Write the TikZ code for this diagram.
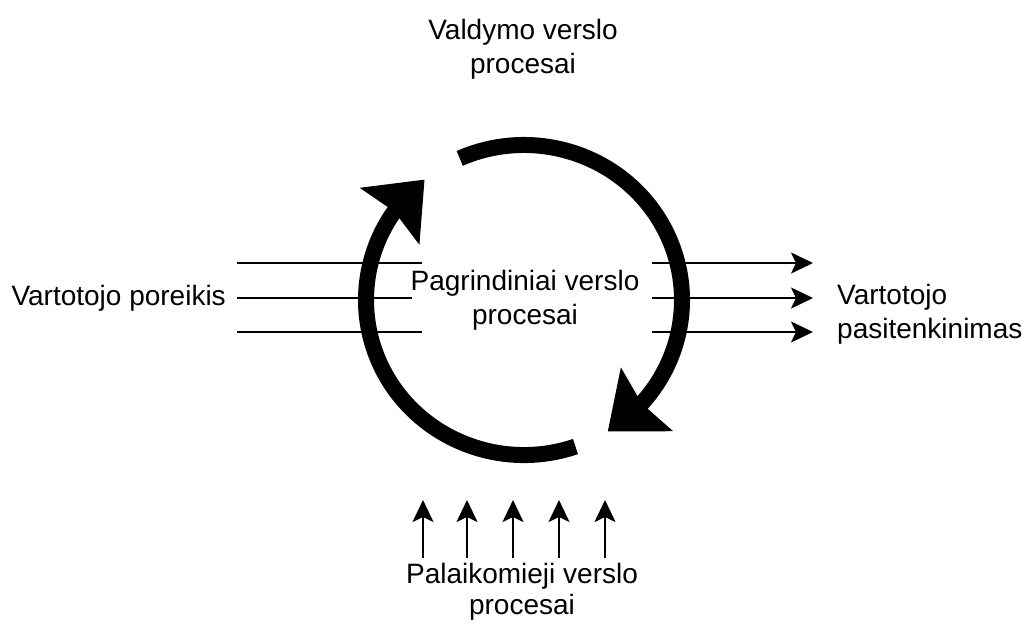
\documentclass[tikz,border=0pt]{standalone}
\usepackage{fontspec}
\setmainfont{Liberation Sans}
\usepackage{tikz}
\usetikzlibrary{positioning,calc}
\usetikzlibrary{arrows.meta,bending}

\begin{document}
\begin{tikzpicture}[
  x = 1pt,
  y = -1pt,
  lbl/.style = {
    inner sep = 0pt,
    align = center,
    font = \fontsize{28}{34}\selectfont,
  },
  cycle/.style = {
    draw,
    line width = 16pt,
    -{Stealth[length=50pt,width=80pt,inset=6pt,flex]},
  },
  flow/.style = {
    draw,
    line width = 2pt,
  },
  flowarrow/.style = {
    flow,
    -{Stealth[length=22pt,width=21pt,inset=5pt]},
  },
]

  \useasboundingbox (0,0) rectangle (1035,625);

  \coordinate (c) at (524,300);

  \node[lbl] (core) at (525,300) {Pagrindiniai verslo\\procesai};
  \node[lbl] (mgmt) at (523,49) {Valdymo verslo\\procesai};
  \node[lbl,font=\fontsize{28}{31}\selectfont] (support) at (522,592) {Palaikomieji verslo\\procesai};
  \node[lbl,anchor=east] (need) at (226,298) {Vartotojo poreikis};
  \node[lbl,align=left,anchor=west] (satisf) at (837,314) {Vartotojo\\pasitenkinimas};

  % the cycle
  \draw[cycle] ([shift={(-114:158 and 155)}]c) arc[start angle=-114, end angle=58, x radius=158, y radius=155];
  \draw[cycle] ([shift={(71:158 and 155)}]c) arc[start angle=71, end angle=231, x radius=158, y radius=155];

  % inputs
  \foreach \i/\y/\xe in {1/263/422, 2/298/412, 3/332/422} {
    \coordinate (in\i s) at (237,\y);
    \coordinate (in\i e) at (\xe,\y);
    \draw[flow] (in\i s) -- (in\i e);
  }

  % outputs
  \foreach \i/\y in {1/263, 2/298, 3/332} {
    \coordinate (out\i s) at (652,\y);
    \coordinate (out\i e) at (813,\y);
    \draw[flowarrow] (out\i s) -- (out\i e);
  }

  % support
  \foreach \x [count=\i] in {423,467,513,559,605} {
    \coordinate (sup\i s) at (\x,558);
    \coordinate (sup\i e) at (\x,500);
    \draw[flowarrow] (sup\i s) -- (sup\i e);
  }

\end{tikzpicture}
\end{document}
